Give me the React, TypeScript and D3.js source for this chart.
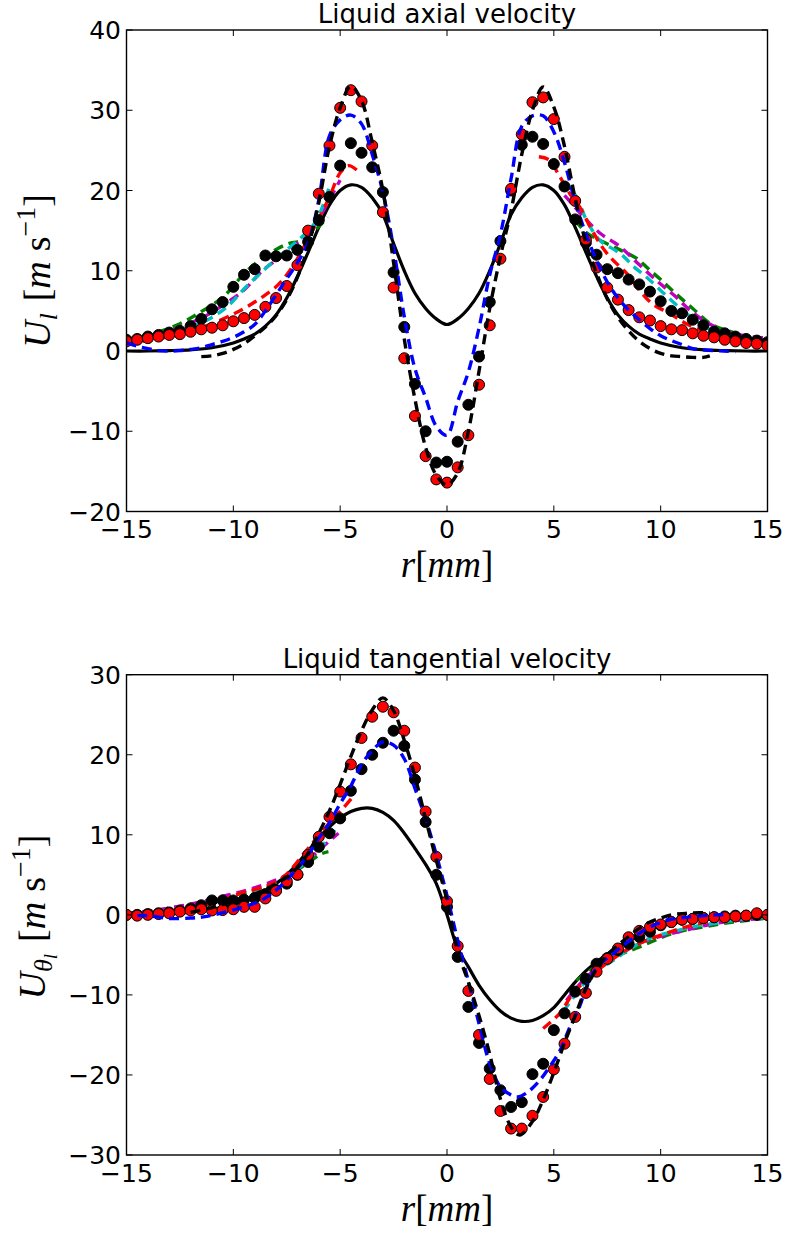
import React from "react";
import * as d3 from "d3";

type P = [number, number];

const W = 789;
const H = 1234;
const PX0 = 126.5;
const PX1 = 767.5;

const X_TICKS = [-15, -10, -5, 0, 5, 10, 15];
const AX_Y_TICKS = [-20, -10, 0, 10, 20, 30, 40];
const TAN_Y_TICKS = [-30, -20, -10, 0, 10, 20, 30];

// measurement radii (mm)
const R_DOTS = [-15, -14.5, -14, -13.5, -13, -12.5, -12, -11.5, -11, -10.5, -10, -9.5, -9, -8.5, -8, -7.5, -7, -6.5, -6, -5.5, -5, -4.5, -4, -3.5, -3, -2.5, -2, -1.5, -1, -0.5, 0, 0.5, 1, 1.5, 2, 2.5, 3, 3.5, 4, 4.5, 5, 5.5, 6, 6.5, 7, 7.5, 8, 8.5, 9, 9.5, 10, 10.5, 11, 11.5, 12, 12.5, 13, 13.5, 14, 14.5, 15];

// ---------- axial velocity ----------
const AX_DOTS_BLACK = [1.4, 1.5, 1.8, 2.0, 2.3, 2.5, 3.1, 4.0, 5.2, 6.1, 8.0, 9.5, 10.2, 11.9, 11.8, 11.9, 12.6, 13.6, 16.3, 19.2, 23.1, 25.9, 24.7, 22.9, 19.8, 9.8, 3.0, -4.1, -10.0, -13.9, -13.8, -11.3, -6.7, -0.7, 6.1, 13.7, 20.0, 25.7, 26.7, 25.8, 23.3, 20.5, 16.4, 13.5, 12.0, 10.2, 9.7, 8.9, 8.3, 7.4, 6.2, 5.0, 4.7, 3.9, 3.2, 2.4, 2.2, 1.8, 1.5, 1.3, 1.1];
const AX_DOTS_RED = [1.2, 1.4, 1.6, 1.8, 2.0, 2.1, 2.4, 2.7, 2.9, 3.2, 3.7, 4.1, 4.5, 5.5, 6.6, 8.1, 10.7, 15.0, 19.6, 25.6, 30.3, 32.5, 31.1, 25.6, 17.3, 7.9, -0.9, -8.1, -13.1, -16.0, -16.4, -14.5, -10.5, -4.2, 3.2, 11.5, 20.2, 27.0, 31.0, 31.6, 28.9, 24.2, 18.7, 13.9, 10.4, 7.9, 6.4, 5.1, 4.2, 3.8, 3.1, 2.7, 2.6, 2.2, 1.9, 1.7, 1.4, 1.2, 1.0, 0.9, 0.7];

const AX_SOLID: P[] = [[-15, 0], [-14, 0], [-13, 0.05], [-12, 0.15], [-11, 0.4], [-10, 1.0], [-9.5, 1.5], [-9, 2.1], [-8.5, 3.1], [-8, 4.5], [-7.5, 6.6], [-7, 9.3], [-6.5, 12.3], [-6, 15.4], [-5.5, 18.2], [-5, 20.0], [-4.5, 20.7], [-4, 20.4], [-3.5, 19.1], [-3, 17.0], [-2.5, 13.4], [-2, 10.0], [-1.5, 7.2], [-1, 5.3], [-0.5, 4.0], [0, 3.3], [0.5, 4.0], [1, 5.3], [1.5, 7.2], [2, 10.0], [2.5, 13.4], [3, 17.0], [3.5, 19.1], [4, 20.4], [4.5, 20.7], [5, 20.0], [5.5, 18.2], [6, 15.4], [6.5, 12.3], [7, 9.3], [7.5, 6.6], [8, 4.5], [8.5, 3.1], [9, 2.1], [9.5, 1.5], [10, 1.0], [11, 0.4], [12, 0.15], [13, 0.05], [14, 0], [15, 0]];
const AX_BLACK_DASH: P[] = [[-11.5, -0.7], [-11, -0.6], [-10.5, -0.3], [-10, 0.2], [-9.5, 0.9], [-9, 1.9], [-8.5, 3.0], [-8, 4.4], [-7.5, 6.4], [-7, 9.2], [-6.5, 13.0], [-6, 18.5], [-5.5, 25.5], [-5, 30.3], [-4.5, 33.0], [-4, 31.2], [-3.5, 26.0], [-3, 20.0], [-2.5, 11.0], [-2, 1.5], [-1.5, -6.0], [-1, -12.0], [-0.5, -15.5], [0, -16.7], [0.5, -15.2], [1, -10.0], [1.5, -2.5], [2, 5.3], [2.5, 11.8], [3, 17.5], [3.5, 24.5], [4, 30.0], [4.5, 32.9], [5, 30.4], [5.5, 25.5], [6, 19.0], [6.5, 13.5], [7, 9.7], [7.5, 6.5], [8, 4.2], [8.5, 2.5], [9, 1.2], [9.5, 0.3], [10, -0.3], [10.5, -0.6], [11, -0.7], [11.5, -0.8], [12, -0.8], [12.3, -0.6]];
const AX_BLUE_DASH: P[] = [[-15, 1.0], [-14.5, 0.6], [-14, 0.3], [-13.5, 0.05], [-13, 0], [-12.5, 0.05], [-12, 0.2], [-11.5, 0.4], [-11, 0.8], [-10.5, 1.2], [-10, 1.7], [-9.5, 2.4], [-9, 3.3], [-8.5, 5.0], [-8, 7.0], [-7.5, 9.0], [-7, 11.0], [-6.5, 13.5], [-6, 18.8], [-5.5, 26.8], [-5, 28.8], [-4.5, 29.4], [-4, 28.3], [-3.5, 24.5], [-3, 19.8], [-2.5, 12.8], [-2, 4.3], [-1.5, -2.2], [-1, -5.8], [-0.5, -9.4], [0, -10.5], [0.5, -6.3], [1, -2.6], [1.5, 2.9], [2, 9.5], [2.5, 14.5], [3, 21.5], [3.5, 28.0], [4, 29.3], [4.5, 29.3], [5, 27.3], [5.5, 23.5], [6, 18.6], [6.5, 14.6], [7, 11.3], [7.5, 8.6], [8, 6.6], [8.5, 5.1], [9, 3.9], [9.5, 2.8], [10, 1.9], [10.5, 1.3], [11, 0.8], [11.5, 0.3], [12, 0.15], [12.5, 0.05], [13, 0], [13.5, -0.1]];
const AX_RED_DASH_L: P[] = [[-15, 1.0], [-14, 1.3], [-13, 1.8], [-12, 2.5], [-11, 3.4], [-10, 4.6], [-9.5, 5.3], [-9, 6.1], [-8.5, 7.0], [-8, 8.0], [-7.5, 9.5], [-7, 11.5], [-6.5, 14.0], [-6, 16.5], [-5.5, 19.2], [-5, 22.2], [-4.6, 23.1], [-4.2, 22.5]];
const AX_RED_DASH_R: P[] = [[4.3, 24.2], [4.8, 23.8], [5.2, 22.1], [5.75, 19.6], [6.2, 18.0], [6.7, 15.5], [7.2, 13.2], [7.7, 11.5], [8.4, 9.7], [9.0, 7.6], [9.6, 5.9], [10.4, 4.7], [11.2, 3.4], [12, 2.4], [12.9, 1.6], [13.9, 1.2], [15, 0.9]];
const AX_CYAN_L: P[] = [[-15, 1.4], [-14, 1.6], [-13.1, 2.0], [-12.2, 2.8], [-11.2, 3.9], [-10.3, 5.5], [-9.4, 8.0], [-8.4, 10.5], [-7.5, 12.6], [-6.6, 14.7], [-6.1, 16.3], [-5.5, 20.5]];
const AX_CYAN_R: P[] = [[5.5, 21.1], [6.06, 19.2], [6.53, 16.3], [7.15, 13.8], [7.9, 12.5], [8.3, 11.7], [8.7, 10.6], [9.3, 9.3], [10.3, 6.8], [11.2, 4.7], [12.1, 3.0], [13.1, 1.8], [14, 1.4], [15, 1.2]];
const AX_MAG_L: P[] = [[-15, 1.4], [-14.35, 1.6], [-13.4, 2.0], [-12.5, 3.0], [-11.5, 4.1], [-10.6, 5.5], [-9.5, 7.6], [-8.6, 10.1], [-7.65, 12.0], [-6.25, 15.5], [-5.6, 18.4], [-5.0, 21.3]];
const AX_MAG_R: P[] = [[5.5, 19.4], [6.4, 16.7], [7.15, 14.7], [8.1, 13.0], [8.9, 11.0], [9.8, 8.8], [10.6, 7.0], [11.5, 4.8], [12.4, 3.2], [13.4, 2.2], [14.2, 1.8], [15, 1.6]];
const AX_GREEN_L: P[] = [[-15, 1.4], [-14.65, 1.6], [-13.6, 2.3], [-12.5, 3.4], [-11.5, 4.9], [-10.45, 6.8], [-9.4, 9.9], [-8.4, 12.0], [-7.5, 13.3], [-6.8, 13.8], [-6.0, 15.5], [-5.6, 16.7]];
const AX_GREEN_R: P[] = [[6.0, 16.3], [6.5, 14.8], [7.3, 13.6], [8.1, 12.6], [8.9, 11.5], [9.4, 10.3], [10.0, 8.9], [10.6, 7.4], [11.5, 5.3], [12.4, 3.3], [13.4, 2.3], [14.2, 1.6], [15, 1.4]];

// ---------- tangential velocity ----------
const TAN_DOTS_BLACK = [0, 0, 0.1, 0.2, 0.3, 0.5, 0.8, 1.2, 1.8, 1.8, 1.8, 1.9, 2.1, 2.6, 3.1, 3.9, 5.0, 6.6, 8.5, 10.2, 12.05, 15.5, 18.2, 20.0, 21.5, 23.0, 21.1, 16.9, 11.6, 5.0, 1.0, -5.25, -11.5, -16.0, -19.2, -21.9, -24.0, -23.4, -19.9, -18.6, -14.4, -12.3, -9.6, -8.0, -6.1, -5.4, -4.4, -3.6, -2.75, -2.1, -1.3, -0.9, -0.6, -0.5, -0.4, -0.3, -0.2, -0.1, -0.1, 0, 0];
const TAN_DOTS_RED = [0, -0.1, 0, 0.1, 0.2, 0.4, 0.55, 0.7, 0.55, 0.6, 0.7, 1.0, 1.0, 2.05, 3.0, 4.2, 5.05, 7.5, 9.75, 12.25, 15.4, 18.8, 22.1, 24.75, 26.0, 25.3, 23.0, 18.4, 12.9, 7.25, 1.7, -3.9, -9.5, -15.0, -20.5, -24.5, -26.7, -26.7, -25.1, -22.75, -19.3, -16.1, -12.75, -9.75, -7.1, -5.5, -4.2, -2.8, -2.0, -1.5, -1.2, -0.9, -0.6, -0.5, -0.4, -0.3, -0.3, -0.2, -0.1, 0.2, 0];

const TAN_SOLID: P[] = [[-15, 0], [-14, 0.05], [-13, 0.15], [-12, 0.35], [-11, 0.7], [-10, 1.3], [-9, 2.2], [-8, 3.9], [-7.5, 5.0], [-7, 6.4], [-6.5, 8.0], [-6, 9.6], [-5.5, 11.0], [-5, 12.1], [-4.5, 12.9], [-4, 13.3], [-3.5, 13.3], [-3, 12.8], [-2.5, 11.8], [-2, 10.2], [-1.5, 8.3], [-1, 6.3], [-0.5, 3.9], [0, 0], [0.5, -4.2], [1, -6.5], [1.5, -8.8], [2, -10.6], [2.5, -12.0], [3, -12.9], [3.5, -13.3], [4, -13.2], [4.5, -12.6], [5, -11.6], [5.5, -10.0], [6, -8.4], [6.5, -7.0], [7, -5.9], [7.5, -4.9], [8, -4.0], [9, -2.5], [10, -1.4], [11, -0.8], [12, -0.4], [13, -0.2], [14, -0.05], [15, 0]];
const TAN_BLACK_DASH: P[] = [[-12, 0.3], [-11, 0.9], [-10, 1.7], [-9.5, 2.2], [-9, 2.6], [-8.5, 3.2], [-8, 3.9], [-7.5, 4.7], [-7, 5.9], [-6.5, 7.7], [-6, 10.2], [-5.5, 13.0], [-5, 16.3], [-4.5, 19.8], [-4, 23.0], [-3.5, 25.6], [-3, 27.1], [-2.5, 25.5], [-2, 21.8], [-1.5, 17.3], [-1, 12.0], [-0.5, 6.8], [0, 1.8], [0.5, -4.5], [1, -8.4], [1.5, -12.6], [2, -17.4], [2.5, -23.0], [3, -26.5], [3.4, -27.5], [4, -25.8], [4.5, -23.1], [5, -19.7], [5.5, -16.0], [6, -12.6], [6.5, -9.2], [7, -6.8], [7.5, -5.0], [8, -3.8], [8.5, -2.7], [9, -1.7], [9.5, -0.9], [10, -0.4], [10.5, 0], [11, 0.15], [11.5, 0.25], [12.3, 0.25]];
const TAN_BLUE_DASH: P[] = [[-14.5, -0.1], [-14, -0.1], [-13, -0.45], [-12, -0.4], [-11.4, -0.25], [-10.6, 0.2], [-9.5, 1.0], [-8.7, 1.8], [-8, 3.1], [-7.2, 5.2], [-6.5, 7.5], [-6, 9.6], [-5.5, 11.5], [-5, 13.9], [-4.5, 16.1], [-4, 18.8], [-3.5, 20.5], [-3, 21.6], [-2.5, 21.2], [-2, 19.5], [-1.5, 15.8], [-1, 12.0], [-0.5, 7.5], [0, 2.4], [0.5, -3.2], [1, -8.3], [1.5, -13.6], [2, -18.6], [2.5, -21.5], [3, -22.5], [3.3, -22.75], [3.7, -22.3], [4.3, -20.8], [4.8, -19.0], [5.3, -16.9], [5.75, -14.0], [6.2, -11.5], [6.5, -9.2], [7, -6.6], [7.8, -4.8], [8.5, -3.3], [9.3, -1.8], [10.3, -0.7], [11.4, -0.25], [12.6, 0], [13, 0]];
const TAN_RED_DASH_L: P[] = [[-15, 0], [-14, 0.2], [-13, 0.5], [-11.85, 1.0], [-10.76, 1.6], [-9.67, 2.7], [-8.58, 3.5], [-7.65, 4.75], [-6.56, 8.1], [-5.5, 11.5], [-4.9, 13.2], [-4.4, 14.75]];
const TAN_RED_DASH_R: P[] = [[4.5, -14.2], [5.28, -12.3], [5.9, -9.8], [6.68, -7.75], [7.46, -6.1], [8.4, -4.4], [9.33, -3.2], [10.27, -2.3], [11.2, -1.5], [12.13, -0.9], [13.2, -0.45], [15, -0.2]];
const TAN_CYAN_L: P[] = [[-15, 0], [-13.57, 0.2], [-12.48, 0.5], [-11.54, 0.9], [-10.6, 1.5], [-9.67, 2.1], [-8.74, 3.1], [-7.8, 4.3], [-6.87, 6.0], [-5.62, 9.3], [-5.08, 11.2]];
const TAN_CYAN_R: P[] = [[5.44, -12.1], [6.06, -9.8], [6.8, -7.4], [7.77, -5.7], [8.71, -4.0], [9.64, -2.75], [10.58, -2.1], [11.51, -1.5], [12.44, -1.1], [13.38, -0.7], [15, -0.3]];
const TAN_MAG_L: P[] = [[-15, 0.2], [-13.57, 0.6], [-12.5, 1.1], [-11.54, 1.6], [-10.6, 2.25], [-9.36, 3.1], [-8.43, 3.9], [-7.5, 5.0], [-6.5, 6.9], [-5.6, 9.0], [-5.08, 10.2]];
const TAN_MAG_R: P[] = [[5.59, -10.7], [6.37, -8.2], [7.3, -6.1], [8.4, -4.4], [9.33, -3.2], [10.27, -2.5], [11.2, -1.9], [12.13, -1.3], [13.2, -0.8], [15, -0.4]];
const TAN_GREEN_L: P[] = [[-15, 0.2], [-14, 0.4], [-12.8, 0.9], [-11.7, 1.4], [-10.6, 2.25], [-9.36, 2.75], [-8.43, 3.5], [-7.5, 4.8], [-6.56, 6.4], [-5.9, 7.6], [-5.55, 7.9]];
const TAN_GREEN_R: P[] = [[6.06, -8.2], [6.9, -6.6], [7.8, -5.3], [9.02, -4.0], [10.58, -2.3], [12.44, -1.3], [13.4, -0.9], [15, -0.4]];

const C_BLUE = "#0000ff";
const C_GREEN = "#008000";
const C_RED = "#ff0000";
const C_CYAN = "#00bfbf";
const C_MAG = "#bf00bf";
const C_BLACK = "#000000";

type LineSpec = { pts: P[]; color: string; dashed: boolean };

const fmt = (v: number) => (v < 0 ? "\u2212" + Math.abs(v) : String(v));

const TICK_FONT = "'DejaVu Sans', sans-serif";
const MATH_FONT = "'Liberation Serif', serif";

function Panel(props: {
  id: string;
  y0: number;
  y1: number;
  yDomain: [number, number];
  yTicks: number[];
  title: string;
  under: LineSpec[];
  over: LineSpec[];
  dotsBlack: number[];
  dotsRed: number[];
  yLabel: React.ReactNode;
}) {
  const { id, y0, y1, yDomain, yTicks, title, under, over, dotsBlack, dotsRed, yLabel } = props;
  const x = d3.scaleLinear().domain([-15, 15]).range([PX0, PX1]);
  const y = d3.scaleLinear().domain(yDomain).range([y1, y0]);
  const line = d3
    .line<P>()
    .x((d) => x(d[0]))
    .y((d) => y(d[1]))
    .curve(d3.curveCatmullRom.alpha(0.5));
  const drawLine = (s: LineSpec, i: number) => (
    <path
      key={i}
      d={line(s.pts) || ""}
      fill="none"
      stroke={s.color}
      strokeWidth={s.dashed ? 3.4 : 3.2}
      strokeDasharray={s.dashed ? "10,6" : undefined}
    />
  );
  const tl = 6;
  return (
    <g>
      <defs>
        <clipPath id={"clip-" + id}>
          <rect x={PX0} y={y0} width={PX1 - PX0} height={y1 - y0} />
        </clipPath>
      </defs>
      <g clipPath={`url(#clip-${id})`}>
        {under.map(drawLine)}
        {dotsBlack.map((v, i) => (
          <circle key={"b" + i} cx={x(R_DOTS[i])} cy={y(v)} r={5.5} fill="#000" stroke="#000" strokeWidth={1} />
        ))}
        {dotsRed.map((v, i) => (
          <circle key={"r" + i} cx={x(R_DOTS[i])} cy={y(v)} r={5.5} fill={C_RED} stroke="#000" strokeWidth={1} />
        ))}
        {over.map(drawLine)}
      </g>
      {X_TICKS.map((t) => (
        <g key={"xt" + t}>
          <line x1={x(t)} x2={x(t)} y1={y1} y2={y1 - tl} stroke="#000" strokeWidth={1} />
          <line x1={x(t)} x2={x(t)} y1={y0} y2={y0 + tl} stroke="#000" strokeWidth={1} />
          <text x={x(t)} y={y1 + 26.5} textAnchor="middle" fontFamily={TICK_FONT} fontSize={25} fill="#000">
            {fmt(t)}
          </text>
        </g>
      ))}
      {yTicks.map((t) => (
        <g key={"yt" + t}>
          <line x1={PX0} x2={PX0 + tl} y1={y(t)} y2={y(t)} stroke="#000" strokeWidth={1} />
          <line x1={PX1} x2={PX1 - tl} y1={y(t)} y2={y(t)} stroke="#000" strokeWidth={1} />
          <text x={121} y={y(t) + 9} textAnchor="end" fontFamily={TICK_FONT} fontSize={25} fill="#000">
            {fmt(t)}
          </text>
        </g>
      ))}
      <rect x={PX0} y={y0} width={PX1 - PX0} height={y1 - y0} fill="none" stroke="#000" strokeWidth={1.4} />
      <text x={(PX0 + PX1) / 2} y={y0 - 7} textAnchor="middle" fontFamily={TICK_FONT} fontSize={26} fill="#000">
        {title}
      </text>
      <text x={(PX0 + PX1) / 2} y={y1 + 65.5} textAnchor="middle" fontFamily={MATH_FONT} fontSize={37} fill="#000">
        <tspan fontStyle="italic">r</tspan>
        <tspan>[</tspan>
        <tspan fontStyle="italic">mm</tspan>
        <tspan>]</tspan>
      </text>
      {yLabel}
    </g>
  );
}

export default function App() {
  const axUnder: LineSpec[] = [
    { pts: AX_SOLID, color: C_BLACK, dashed: false },
    { pts: AX_GREEN_L, color: C_GREEN, dashed: true },
    { pts: AX_GREEN_R, color: C_GREEN, dashed: true },
    { pts: AX_MAG_L, color: C_MAG, dashed: true },
    { pts: AX_MAG_R, color: C_MAG, dashed: true },
    { pts: AX_CYAN_L, color: C_CYAN, dashed: true },
    { pts: AX_CYAN_R, color: C_CYAN, dashed: true },
    { pts: AX_RED_DASH_L, color: C_RED, dashed: true },
    { pts: AX_RED_DASH_R, color: C_RED, dashed: true },
  ];
  const axOver: LineSpec[] = [
    { pts: AX_BLUE_DASH, color: C_BLUE, dashed: true },
    { pts: AX_BLACK_DASH, color: C_BLACK, dashed: true },
  ];
  const tanUnder: LineSpec[] = [
    { pts: TAN_SOLID, color: C_BLACK, dashed: false },
    { pts: TAN_GREEN_L, color: C_GREEN, dashed: true },
    { pts: TAN_GREEN_R, color: C_GREEN, dashed: true },
    { pts: TAN_MAG_L, color: C_MAG, dashed: true },
    { pts: TAN_MAG_R, color: C_MAG, dashed: true },
    { pts: TAN_CYAN_L, color: C_CYAN, dashed: true },
    { pts: TAN_CYAN_R, color: C_CYAN, dashed: true },
    { pts: TAN_RED_DASH_L, color: C_RED, dashed: true },
    { pts: TAN_RED_DASH_R, color: C_RED, dashed: true },
  ];
  const tanOver: LineSpec[] = [
    { pts: TAN_BLUE_DASH, color: C_BLUE, dashed: true },
    { pts: TAN_BLACK_DASH, color: C_BLACK, dashed: true },
  ];

  const axYLabel = (
    <text transform="translate(50,271) rotate(-90)" textAnchor="middle" fontFamily={MATH_FONT} fontSize={38} fill="#000">
      <tspan fontStyle="italic">U</tspan>
      <tspan fontStyle="italic" fontSize={26} dy={7}>l</tspan>
      <tspan dy={-7} dx={12}>[</tspan>
      <tspan fontStyle="italic">m</tspan>
      <tspan dx={10}>s</tspan>
      <tspan fontSize={28} dy={-15}>{"\u22121"}</tspan>
      <tspan dy={15}>]</tspan>
    </text>
  );
  const tanYLabel = (
    <text transform="translate(45,917) rotate(-90)" textAnchor="middle" fontFamily={MATH_FONT} fontSize={38} fill="#000">
      <tspan fontStyle="italic">U</tspan>
      <tspan fontStyle="italic" fontSize={26} dy={7}>{"\u03b8"}</tspan>
      <tspan fontStyle="italic" fontSize={19} dy={5}>l</tspan>
      <tspan dy={-12} dx={12}>[</tspan>
      <tspan fontStyle="italic">m</tspan>
      <tspan dx={10}>s</tspan>
      <tspan fontSize={28} dy={-15}>{"\u22121"}</tspan>
      <tspan dy={15}>]</tspan>
    </text>
  );

  return (
    <svg
      width={W}
      height={H}
      viewBox={`0 0 ${W} ${H}`}
      style={{ position: "absolute", left: 0, top: 0, display: "block", background: "#fff" }}
    >
      <rect x={0} y={0} width={W} height={H} fill="#fff" />
      <Panel
        id="ax"
        y0={30}
        y1={511.5}
        yDomain={[-20, 40]}
        yTicks={AX_Y_TICKS}
        title="Liquid axial velocity"
        under={axUnder}
        over={axOver}
        dotsBlack={AX_DOTS_BLACK}
        dotsRed={AX_DOTS_RED}
        yLabel={axYLabel}
      />
      <Panel
        id="tan"
        y0={674.7}
        y1={1155}
        yDomain={[-30, 30]}
        yTicks={TAN_Y_TICKS}
        title="Liquid tangential velocity"
        under={tanUnder}
        over={tanOver}
        dotsBlack={TAN_DOTS_BLACK}
        dotsRed={TAN_DOTS_RED}
        yLabel={tanYLabel}
      />
    </svg>
  );
}
